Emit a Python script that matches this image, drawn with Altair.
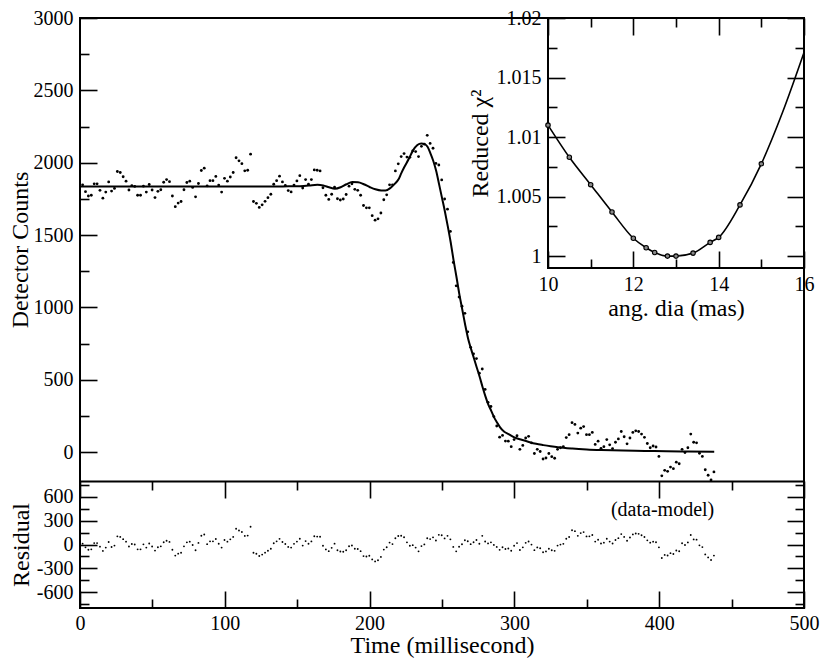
import altair as alt
import pandas as pd

# ---------------- data ----------------
SAMPLE_START_MS = 1.8   # first sample time
SAMPLE_STEP_MS = 2.0    # sampling interval of the detector

COUNTS = [
    1847, 1800, 1770, 1775, 1854, 1854, 1809, 1755, 1797, 1867,
    1804, 1822, 1939, 1932, 1903, 1872, 1811, 1842, 1836, 1775,
    1775, 1838, 1797, 1849, 1811, 1759, 1802, 1813, 1865, 1883,
    1869, 1770, 1696, 1721, 1732, 1813, 1863, 1872, 1829, 1764,
    1856, 1946, 1962, 1840, 1876, 1876, 1905, 1845, 1797, 1892,
    1872, 1901, 1932, 2034, 2013, 1993, 1944, 1948, 2059, 1732,
    1719, 1691, 1709, 1733, 1758, 1782, 1851, 1876, 1907, 1867,
    1843, 1807, 1798, 1845, 1874, 1910, 1825, 1883, 1851, 1883,
    1950, 1948, 1943, 1827, 1775, 1746, 1782, 1831, 1751, 1742,
    1749, 1780, 1838, 1854, 1816, 1809, 1775, 1704, 1688, 1688,
    1634, 1603, 1612, 1652, 1744, 1778, 1847, 1847, 1943, 1992,
    2042, 2063, 2039, 2037, 2082, 2077, 2042, 2113, 2128, 2189,
    2133, 2100, 1995, 1984, 1881, 1749, 1679, 1525, 1310, 1149,
    1071, 1008, 959, 831, 724, 679, 646, 545, 574, 433,
    344, 315, 245, 180, 103, 115, 76, 75, 37, 86,
    113, 19, 46, 97, 109, 64, -10, 19, 4, -48,
    -41, -10, -32, -43, 19, 30, 37, 100, 120, 203,
    191, 131, 165, 176, 120, 120, 136, 53, 75, 26,
    37, 86, 50, 24, 68, 91, 142, 106, 57, 97,
    136, 147, 142, 124, 102, 59, 30, 42, 35, -30,
    -164, -126, -133, -104, -115, -70, -81, 19, -3, 30,
    124, 68, 64, -8, -30, -122, -160, -193, -137,
]

RESIDUAL = [
    11, -36, -66, -61, 18, 18, -27, -81, -39, 31,
    -32, -14, 103, 96, 67, 36, -25, 6, 0, -61,
    -61, 2, -39, 13, -25, -77, -34, -23, 29, 47,
    33, -66, -140, -115, -104, -23, 27, 36, -7, -72,
    20, 110, 126, 4, 40, 40, 69, 9, -39, 56,
    36, 65, 96, 198, 177, 157, 108, 112, 223, -104,
    -117, -145, -127, -103, -78, -54, 15, 40, 71, 31,
    7, -30, -39, 8, 37, 72, -14, 43, 9, 39,
    104, 100, 97, -16, -62, -84, -42, 11, -73, -88,
    -92, -72, -22, -12, -53, -56, -84, -146, -151, -142,
    -188, -213, -199, -156, -64, -35, 24, 5, 78, 107,
    110, 91, 27, -16, -8, -39, -86, -20, 1, 79,
    68, 90, 50, 122, 117, 77, 109, 65, -30, -86,
    -29, 3, 54, 41, 4, 29, 56, 10, 109, 38,
    14, 27, -5, -30, -67, -35, -57, -50, -78, -16,
    18, -69, -36, 21, 38, -1, -71, -37, -48, -97,
    -87, -53, -72, -80, -14, -1, 8, 73, 95, 179,
    168, 109, 144, 156, 102, 103, 119, 37, 60, 12,
    23, 73, 37, 12, 56, 80, 131, 96, 47, 88,
    127, 139, 134, 116, 95, 52, 23, 36, 29, -36,
    -170, -131, -138, -109, -120, -75, -85, 15, -7, 26,
    120, 64, 61, -11, -33, -125, -163, -196, -140,
]

MODEL_T = [
    0, 20, 40, 60, 80, 100, 120, 140, 146, 152, 158, 164, 168, 172, 176, 180,
    184, 188, 192, 196, 200, 204, 208, 211, 214, 217, 220, 222, 224, 227, 230,
    233, 235.7, 238, 240, 242, 244, 246, 248, 250, 252, 254, 256, 258, 260,
    262, 264, 266, 268, 270, 272, 274, 276, 278, 280, 282, 284, 286, 288, 290,
    293, 296, 300, 305, 310, 315, 320, 325, 330, 340, 350, 360, 375, 390, 405,
    420, 438,
]
MODEL_COUNTS = [
    1836, 1836, 1836, 1836, 1836, 1836, 1836, 1836, 1837, 1838, 1842, 1848, 1843, 1830, 1820, 1830,
    1851, 1866, 1865, 1851, 1832, 1816, 1808, 1808, 1822, 1850, 1885, 1930, 1970, 2025, 2085,
    2122, 2133, 2128, 2110, 2065, 2012, 1942, 1850, 1757, 1663, 1560, 1450, 1325, 1210,
    1090, 985, 880, 785, 715, 650, 585, 520, 450, 385, 328, 285, 240, 205, 172,
    140, 124, 102, 85, 70, 57, 48, 40, 33, 24, 18, 14, 10, 8, 5,
    4, 3,
]

ANG_DIA = [10, 10.5, 11, 11.5, 12, 12.3, 12.5, 12.8, 13, 13.4, 13.8, 14, 14.5, 15]
CHI2 = [1.0110, 1.0083, 1.0060, 1.0037, 1.0015, 1.0007, 1.0003, 1.0000, 1.0000,
        1.00025, 1.00115, 1.00157, 1.0043, 1.00775]
FIT_DIA = [10, 10.5, 11, 11.5, 12, 12.3, 12.5, 12.8, 13, 13.4, 13.8, 14, 14.5, 15, 15.5, 16]
FIT_CHI2 = [1.0110, 1.0083, 1.0060, 1.0037, 1.0015, 1.0007, 1.0003, 1.0000, 1.0000,
            1.00025, 1.00115, 1.00157, 1.0043, 1.00775, 1.0121, 1.0171]

TIME_MAJOR = [0, 100, 200, 300, 400, 500]
TIME_MINOR = [50, 150, 250, 350, 450]
COUNT_MAJOR = [0, 500, 1000, 1500, 2000, 2500, 3000]
COUNT_MINOR = [250, 750, 1250, 1750, 2250, 2750]
RES_MAJOR = [-600, -300, 0, 300, 600]
RES_MINOR = [-750, -450, -150, 150, 450, 750]
DIA_MAJOR = [10, 12, 14, 16]
DIA_MINOR = [11, 13, 15]
CHI_MAJOR = [1, 1.005, 1.01, 1.015, 1.02]
CHI_MINOR = [1.0025, 1.0075, 1.0125, 1.0175]

ANNOTATION = ["(data-model)"]
ANNOT_T = [438]
ANNOT_R = [430]

# ---------------- tables ----------------
times = [round(SAMPLE_START_MS + SAMPLE_STEP_MS * i, 1) for i in range(len(COUNTS))]
obs = pd.DataFrame({"t": times, "counts": COUNTS, "residual": RESIDUAL})
model = pd.DataFrame({"t": MODEL_T, "v": MODEL_COUNTS})
chi_pts = pd.DataFrame({"d": ANG_DIA, "c": CHI2})
chi_fit = pd.DataFrame({"d": FIT_DIA, "c": FIT_CHI2})
inset_box = pd.DataFrame({"d0": [DIA_MAJOR[0]], "d1": [DIA_MAJOR[-1]], "c0": [0.999], "c1": [CHI_MAJOR[-1]]})
annot = pd.DataFrame({"t": ANNOT_T, "r": ANNOT_R, "label": ANNOTATION})

# ---------------- layout ----------------
W = 724
H1 = 463          # main panel
H2 = 127          # residual panel
H = H1 + H2
XI = 468          # inset left edge
HI = 250          # inset bottom edge
FONT = "Liberation Serif"
LABEL_SIZE, TITLE_SIZE = 20, 24
MAJ, MINL = 17, 9

x_time = alt.Scale(domain=[0, 500], range=[0, W], nice=False, zero=False)
y_cnt = alt.Scale(domain=[-200, 3000], range=[H1, 0], nice=False, zero=False)
y_res = alt.Scale(domain=[-800, 800], range=[H, H1], nice=False, zero=False)
x_dia = alt.Scale(domain=[10, 16], range=[XI, W], nice=False, zero=False)
y_chi = alt.Scale(domain=[0.999, 1.02], range=[HI, 0], nice=False, zero=False)


def tick_axis(orient, offset, values, size, domain=False):
    kw = dict(orient=orient, offset=offset, values=values, tickSize=size, tickWidth=1.6,
              tickColor="black", labels=False, domain=domain, grid=False, title=None, zindex=2)
    if domain:
        kw.update(domainColor="black", domainWidth=2)
    return alt.Axis(**kw)


def label_axis(orient, offset, values, title, title_pad, label_pad=7):
    return alt.Axis(orient=orient, offset=offset, values=values, ticks=False, tickSize=0,
                    domain=False, grid=False, labels=True, labelExpr="toString(datum.value)",
                    labelFont=FONT, labelFontSize=LABEL_SIZE, labelColor="black",
                    labelPadding=label_pad, labelFlush=False, labelOverlap=False, title=title,
                    titleFont=FONT, titleFontSize=TITLE_SIZE, titleFontWeight="normal",
                    titleColor="black", titlePadding=title_pad, zindex=2)


# main panel
main_pts = alt.Chart(obs).mark_circle(size=8, color="black", opacity=1).encode(
    x=alt.X("t:Q", scale=x_time, axis=tick_axis("bottom", -H2, TIME_MAJOR, MAJ, domain=True)),
    y=alt.Y("counts:Q", scale=y_cnt, axis=label_axis("left", 0, COUNT_MAJOR, "Detector  Counts", 1)),
)
main_line = alt.Chart(model).mark_line(color="black", strokeWidth=2, interpolate="monotone").encode(
    x=alt.X("t:Q", scale=x_time, axis=tick_axis("bottom", -H2, TIME_MINOR, MINL)),
    y=alt.Y("v:Q", scale=y_cnt, axis=tick_axis("right", -W, COUNT_MAJOR, MAJ)),
)
main_inv = alt.Chart(obs).mark_circle(opacity=0).encode(
    x=alt.X("t:Q", scale=x_time, axis=None),
    y=alt.Y("counts:Q", scale=y_cnt, axis=tick_axis("right", -W, COUNT_MINOR, MINL)),
)
main_group = alt.layer(main_pts, main_line, main_inv).resolve_axis(x="independent", y="independent")

# residual panel
res_pts = alt.Chart(obs).mark_circle(size=3.5, color="black", opacity=1).encode(
    x=alt.X("t:Q", scale=x_time, axis=label_axis("bottom", 0, TIME_MAJOR, "Time (millisecond)", 0, 5)),
    y=alt.Y("residual:Q", scale=y_res, axis=label_axis("left", 0, RES_MAJOR, "Residual", 3)),
)
res_inv1 = alt.Chart(obs).mark_circle(opacity=0).encode(
    x=alt.X("t:Q", scale=x_time, axis=tick_axis("top", -H, TIME_MAJOR, MAJ)),
    y=alt.Y("residual:Q", scale=y_res, axis=tick_axis("right", -W, RES_MAJOR, MAJ)),
)
res_inv2 = alt.Chart(obs).mark_circle(opacity=0).encode(
    x=alt.X("t:Q", scale=x_time, axis=tick_axis("top", -H, TIME_MINOR, MINL)),
    y=alt.Y("residual:Q", scale=y_res, axis=tick_axis("right", -W, RES_MINOR, MINL)),
)
res_inv3 = alt.Chart(obs).mark_circle(opacity=0).encode(
    x=alt.X("t:Q", scale=x_time, axis=None),
    y=alt.Y("residual:Q", scale=y_res, axis=tick_axis("left", -W, RES_MAJOR, MAJ)),
)
res_inv4 = alt.Chart(obs).mark_circle(opacity=0).encode(
    x=alt.X("t:Q", scale=x_time, axis=None),
    y=alt.Y("residual:Q", scale=y_res, axis=tick_axis("left", -W, RES_MINOR, MINL)),
)
res_text = alt.Chart(annot).mark_text(align="right", baseline="middle", font=FONT,
                                      fontSize=20, color="black").encode(
    x=alt.X("t:Q", scale=x_time, axis=None),
    y=alt.Y("r:Q", scale=y_res, axis=None),
    text="label:N",
)
res_group = alt.layer(res_pts, res_inv1, res_inv2, res_inv3, res_inv4, res_text).resolve_axis(
    x="independent", y="independent")

lower = alt.layer(main_group, res_group).resolve_scale(y="independent").resolve_axis(
    x="independent", y="independent")

# inset
in_bg = alt.Chart(inset_box).mark_rect(fill="white", stroke="black", strokeWidth=2).encode(
    x=alt.X("d0:Q", scale=x_dia, axis=None), x2="d1:Q",
    y=alt.Y("c0:Q", scale=y_chi, axis=None), y2="c1:Q",
)
in_line = alt.Chart(chi_fit).mark_line(color="black", strokeWidth=1.6, interpolate="monotone").encode(
    x=alt.X("d:Q", scale=x_dia, axis=label_axis("bottom", -(H - HI), DIA_MAJOR, "ang. dia (mas)", 2, 6)),
    y=alt.Y("c:Q", scale=y_chi, axis=label_axis("left", -XI, CHI_MAJOR, "Reduced χ²", 4)),
)
in_pts = alt.Chart(chi_pts).mark_point(shape="circle", size=20, filled=True, fill="#8a8a8a",
                                       stroke="black", strokeWidth=1.1, opacity=1).encode(
    x=alt.X("d:Q", scale=x_dia, axis=tick_axis("top", -HI, DIA_MAJOR, MAJ)),
    y=alt.Y("c:Q", scale=y_chi, axis=tick_axis("right", -(W - XI), CHI_MAJOR, MAJ)),
)
in_inv1 = alt.Chart(chi_pts).mark_circle(opacity=0).encode(
    x=alt.X("d:Q", scale=x_dia, axis=tick_axis("top", -HI, DIA_MINOR, MINL)),
    y=alt.Y("c:Q", scale=y_chi, axis=tick_axis("right", -(W - XI), CHI_MINOR, MINL)),
)
in_inv2 = alt.Chart(chi_pts).mark_circle(opacity=0).encode(
    x=alt.X("d:Q", scale=x_dia, axis=tick_axis("bottom", -H, DIA_MAJOR, MAJ)),
    y=alt.Y("c:Q", scale=y_chi, axis=tick_axis("left", -W, CHI_MAJOR, MAJ)),
)
in_inv3 = alt.Chart(chi_pts).mark_circle(opacity=0).encode(
    x=alt.X("d:Q", scale=x_dia, axis=tick_axis("bottom", -H, DIA_MINOR, MINL)),
    y=alt.Y("c:Q", scale=y_chi, axis=tick_axis("left", -W, CHI_MINOR, MINL)),
)
inset = alt.layer(in_bg, in_line, in_pts, in_inv1, in_inv2, in_inv3).resolve_axis(
    x="independent", y="independent")

chart = alt.layer(lower, inset).resolve_scale(x="independent", y="independent").resolve_axis(
    x="independent", y="independent"
).properties(
    width=W, height=H,
    padding={"left": 72, "top": 10, "right": 18, "bottom": 51},
    autosize=alt.AutoSizeParams(type="none"),
    background="white",
).configure_view(stroke="black", strokeWidth=2).configure_axis(
    grid=False, labelFont=FONT, titleFont=FONT
).configure_text(font=FONT)

chart.save("out.html", embed_options={"renderer": "svg", "actions": False})
